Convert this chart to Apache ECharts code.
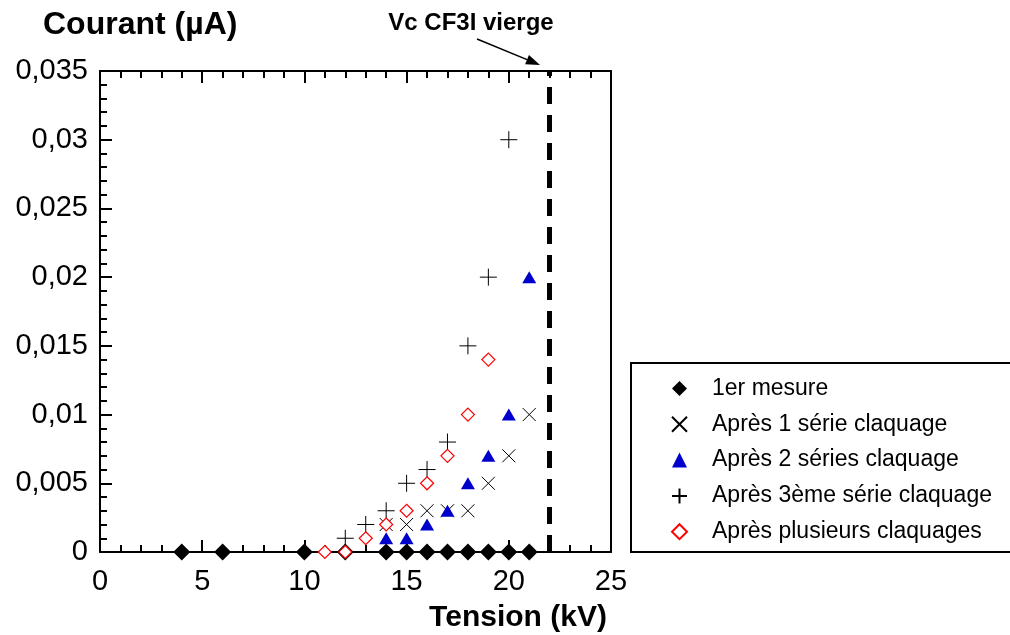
<!DOCTYPE html>
<html>
<head>
<meta charset="utf-8">
<script src="https://cdn.jsdelivr.net/npm/echarts@6/dist/echarts.min.js"></script>
<style>
html,body{margin:0;padding:0;background:#fff;}
#chart{width:1010px;height:635px;}
</style>
</head>
<body>
<div id="chart"></div>
<script>
// ---- data ----
const seriesNames = ['1er mesure', 'Après 1 série claquage', 'Après 2 séries claquage', 'Après 3ème série claquage', 'Après plusieurs claquages'];
const xMesure1 = [4, 6, 10, 12, 14, 15, 16, 17, 18, 19, 20, 21];
const yMesure1 = [0, 0, 0, 0, 0, 0, 0, 0, 0, 0, 0, 0];
const xSerie1 = [14, 15, 16, 17, 18, 19, 20, 21];
const ySerie1 = [0.002, 0.002, 0.003, 0.003, 0.003, 0.005, 0.007, 0.010];
const xSerie2 = [14, 15, 16, 17, 18, 19, 20, 21];
const ySerie2 = [0.001, 0.001, 0.002, 0.003, 0.005, 0.007, 0.010, 0.020];
const xSerie3 = [12, 13, 14, 15, 16, 17, 18, 19, 20];
const ySerie3 = [0.001, 0.002, 0.003, 0.005, 0.006, 0.008, 0.015, 0.020, 0.030];
const xPlusieurs = [11, 12, 13, 14, 15, 16, 17, 18, 19];
const yPlusieurs = [0, 0, 0.001, 0.002, 0.003, 0.005, 0.007, 0.010, 0.014];
const vcVierge = 22;
const yTickLabels = ['0', '0,005', '0,01', '0,015', '0,02', '0,025', '0,03', '0,035'];
const xTickLabels = ['0', '5', '10', '15', '20', '25'];

const FONT = "'Liberation Sans', Arial, Helvetica, sans-serif";
function pts(xs, ys) { return xs.map((x, i) => [x, ys[i]]); }

const chart = echarts.init(document.getElementById('chart'), null, {renderer: 'canvas'});

// arrow for annotation
const ax1 = 477, ay1 = 39, ax2 = 540, ay2 = 65;
const ang = Math.atan2(ay2 - ay1, ax2 - ax1);
const hl = 14, hw = 5;
const bx = ax2 - hl * Math.cos(ang), by = ay2 - hl * Math.sin(ang);
const head = [
  [ax2, ay2],
  [bx + hw * Math.sin(ang), by - hw * Math.cos(ang)],
  [bx - hw * Math.sin(ang), by + hw * Math.cos(ang)]
];

const xAxisCommon = {
  type: 'value', min: 0, max: 25, interval: 5,
  axisLine: {show: true, onZero: false, lineStyle: {color: '#000', width: 2}},
  axisTick: {show: true, inside: true, length: 12, lineStyle: {color: '#000', width: 2}},
  minorTick: {show: true, splitNumber: 5, length: 7, lineStyle: {color: '#000', width: 2}},
  splitLine: {show: false}
};

const option = {
  animation: false,
  backgroundColor: '#fff',
  grid: {left: 100, right: 399, top: 71, bottom: 83, containLabel: false},
  xAxis: [
    Object.assign({}, xAxisCommon, {
      position: 'bottom',
      axisLabel: {show: true, fontSize: 29, color: '#000', fontFamily: FONT, margin: 15,
        formatter: v => xTickLabels[Math.round(v / 5)]}
    }),
    Object.assign({}, xAxisCommon, {
      position: 'top',
      axisLabel: {show: false}
    })
  ],
  yAxis: [
    {
      type: 'value', min: 0, max: 0.035, interval: 0.005, position: 'left',
      axisLine: {show: true, onZero: false, lineStyle: {color: '#000', width: 2}},
      axisTick: {show: true, inside: true, length: 12, lineStyle: {color: '#000', width: 2}},
      minorTick: {show: true, splitNumber: 5, length: 7, lineStyle: {color: '#000', width: 2}},
      splitLine: {show: false},
      axisLabel: {show: true, fontSize: 29, color: '#000', fontFamily: FONT, margin: 12,
        formatter: v => yTickLabels[Math.round(v / 0.005)]}
    },
    {
      type: 'value', min: 0, max: 0.035, interval: 0.005, position: 'right',
      axisLine: {show: true, onZero: false, lineStyle: {color: '#000', width: 2}},
      axisTick: {show: false}, axisLabel: {show: false}, splitLine: {show: false}
    }
  ],
  legend: {
    orient: 'vertical', left: 666, top: 372,
    itemWidth: 15, itemHeight: 15, itemGap: 12.8,
    textStyle: {fontSize: 23, color: '#000', fontFamily: FONT, padding: [0, 0, 0, 20]},
    data: seriesNames
  },
  series: [
    {
      name: seriesNames[0], type: 'scatter', symbol: 'diamond', symbolSize: 17,
      itemStyle: {color: '#000', opacity: 1},
      data: pts(xMesure1, yMesure1),
      markLine: {
        silent: true, symbol: ['none', 'none'], label: {show: false},
        lineStyle: {type: [17, 11], width: 5, color: '#000'},
        data: [{xAxis: vcVierge}]
      }
    },
    {
      name: seriesNames[1], type: 'scatter', symbol: 'path://M0,0L10,10M10,0L0,10', symbolSize: 13,
      itemStyle: {color: '#000', borderColor: '#000', borderWidth: 1, opacity: 1},
      data: pts(xSerie1, ySerie1)
    },
    {
      name: seriesNames[2], type: 'scatter', symbol: 'triangle', symbolSize: [14, 12],
      itemStyle: {color: '#0000CC', opacity: 1},
      data: pts(xSerie2, ySerie2)
    },
    {
      name: seriesNames[3], type: 'scatter', symbol: 'path://M5,0L5,10M0,5L10,5', symbolSize: 17,
      itemStyle: {color: '#000', borderColor: '#000', borderWidth: 1, opacity: 1},
      data: pts(xSerie3, ySerie3)
    },
    {
      name: seriesNames[4], type: 'scatter', symbol: 'diamond', symbolSize: 13,
      itemStyle: {color: '#fff', borderColor: '#FF0000', borderWidth: 1.2, opacity: 1},
      data: pts(xPlusieurs, yPlusieurs)
    }
  ],
  graphic: [
    {type: 'rect', shape: {x: 631, y: 363, width: 400, height: 189},
      style: {fill: 'none', stroke: '#000', lineWidth: 2}, z: 0},
    {type: 'text', x: 43, y: 25, style: {text: 'Courant (µA)', font: 'bold 32px ' + FONT, fill: '#000', verticalAlign: 'middle', textAlign: 'left'}},
    {type: 'text', x: 518, y: 618, style: {text: 'Tension (kV)', font: 'bold 30px ' + FONT, fill: '#000', verticalAlign: 'middle', textAlign: 'center'}},
    {type: 'text', x: 471, y: 23, style: {text: 'Vc CF3I vierge', font: 'bold 24px ' + FONT, fill: '#000', verticalAlign: 'middle', textAlign: 'center'}},
    {type: 'line', shape: {x1: ax1, y1: ay1, x2: bx, y2: by}, style: {stroke: '#000', lineWidth: 1.5}},
    {type: 'polygon', shape: {points: head}, style: {fill: '#000'}}
  ]
};
chart.setOption(option);
</script>
</body>
</html>
